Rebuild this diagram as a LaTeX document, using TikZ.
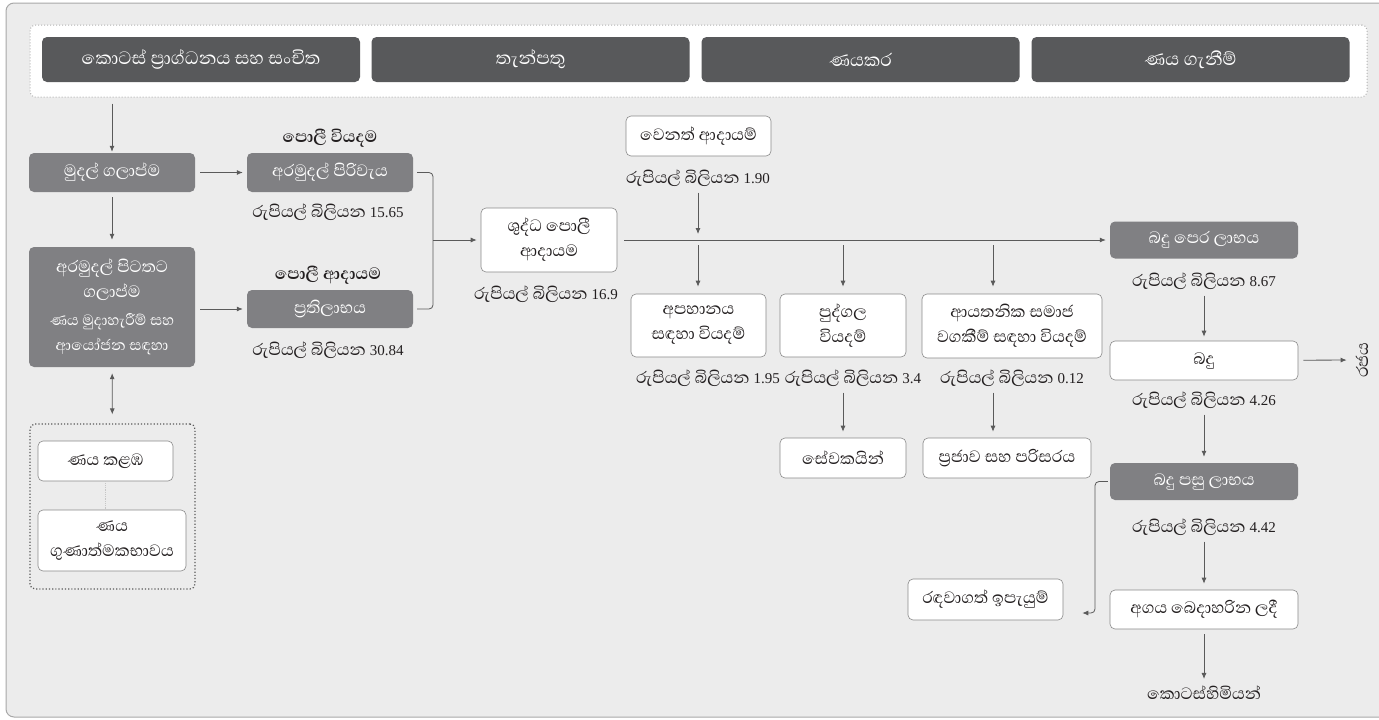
\documentclass[tikz,border=0pt]{standalone}
\usepackage{fontspec}
\setmainfont{Abhaya Libre}[Script=Sinhala]
\newfontfamily\numfont{Liberation Serif}
\usetikzlibrary{arrows.meta}

\definecolor{bgfill}{HTML}{ECECEC}
\definecolor{framegray}{HTML}{A8A8A8}
\definecolor{headfill}{HTML}{58595B}
\definecolor{stepfill}{HTML}{808083}
\definecolor{boxline}{HTML}{8A8A8A}
\definecolor{linegray}{HTML}{5A5A5A}
\definecolor{txt}{HTML}{231F20}

\newcommand{\smallsin}{\fontsize{19}{21}\selectfont}
\newcommand{\rbil}[1]{රුපියල් බිලියන {\numfont\fontsize{15}{15}\selectfont #1}}

\tikzset{
  basefont/.style={font=\fontsize{21}{25}\selectfont},
  headbox/.style={rectangle, rounded corners=5pt, fill=headfill, text=white,
    font=\fontsize{23}{26}\selectfont, minimum width=318pt, minimum height=45pt, inner sep=2pt},
  graybox/.style={basefont, rectangle, rounded corners=5pt, fill=stepfill, text=white,
    align=center, inner sep=2pt},
  whitebox/.style={basefont, rectangle, rounded corners=5pt, fill=white, draw=boxline,
    line width=0.6pt, text=txt, align=center, inner sep=2pt},
  dotbox/.style={rectangle, rounded corners=5pt, draw=linegray, dotted, line width=1.2pt},
  lbl/.style={basefont, text=txt, inner sep=1pt},
  boldlbl/.style={lbl, font=\fontsize{21}{24}\selectfont\bfseries},
  conn/.style={draw=linegray, line width=0.8pt},
  arr/.style={conn, -{Latex[length=6pt,width=5pt]}},
}

\begin{document}
\begin{tikzpicture}[x=1pt, y=-1pt]
  \useasboundingbox (0,0) rectangle (1379,720);
  % Frame
  \draw[framegray, fill=bgfill, line width=1pt, rounded corners=8pt] (6,3) rectangle (1395,717);

  % Top row of sources
  \node[dotbox, fill=white, draw=gray!60, line width=1pt, minimum width=1337pt, minimum height=72pt] (topgrp) at (698.5,61) {};
  \node[headbox] (kotas) at (201,59.5) {කොටස් ප්‍රාග්ධනය සහ සංචිත};
  \node[headbox] (thanpathu) at (530.5,59.5) {තැන්පතු};
  \node[headbox] (nayakara) at (860.5,59.5) {ණයකර};
  \node[headbox] (nayaganim) at (1190.5,59.5) {ණය ගැනීම්};

  % Left column
  \node[graybox, minimum width=166pt, minimum height=39pt] (mudal) at (112,172.5) {මුදල් ගලාප්ම};
  \node[graybox, minimum width=166pt, minimum height=120pt] (pitatata) at (112,307)
    {අරමුදල් පිටතට\\ගලාප්ම\\[3pt]{\smallsin ණය මුදාහැරීම් සහ}\\{\smallsin ආයෝජන සඳහා}};
  \node[dotbox, minimum width=165pt, minimum height=165pt] (grp) at (112.5,506.5) {};
  \node[whitebox, minimum width=135pt, minimum height=40pt] (kalaba) at (105.5,461) {ණය කළඹ};
  \node[whitebox, minimum width=148pt, minimum height=61pt] (guna) at (112,540.5) {ණය\\ගුණාත්මකභාවය};

  \draw[arr, shorten <=6pt, shorten >=1pt] (topgrp.south -| mudal) -- (mudal);
  \draw[arr, shorten <=5pt, shorten >=7pt] (mudal) -- (pitatata);
  \draw[conn, {Latex[length=6pt,width=5pt]}-{Latex[length=6pt,width=5pt]}, shorten <=6pt, shorten >=9pt] (pitatata) -- (grp);
  \draw[gray!45, line width=0.8pt, densely dotted] (kalaba) -- (kalaba |- guna.north);

  % Interest expense and income
  \node[boldlbl] (poliwiyadama) at (330,138) {පොලී වියදම};
  \node[graybox, minimum width=166pt, minimum height=39pt] (piriwaya) at (330,172.5) {අරමුදල් පිරිවැය};
  \node[lbl] (val1565) at (328,212) {\rbil{15.65}};
  \node[boldlbl] (poliadayama) at (328,275) {පොලී ආදායම};
  \node[graybox, minimum width=166pt, minimum height=38pt] (pratilabha) at (330,309) {ප්‍රතිලාභය};
  \node[lbl] (val3084) at (328,350) {\rbil{30.84}};

  \draw[arr, shorten <=5pt, shorten >=4pt] (mudal) -- (piriwaya);
  \draw[arr, shorten <=5pt, shorten >=4pt] (pitatata.east |- pratilabha) -- (pratilabha);

  % Net interest income
  \coordinate (brk) at (433,240);
  \node[whitebox, minimum width=136pt, minimum height=64pt] (shuddha) at (549,240) {ශුද්ධ පොලී\\ආදායම};
  \node[lbl] (val169) at (546,294) {\rbil{16.9}};
  \draw[conn, rounded corners=4pt] ([xshift=4pt]piriwaya.east) -| (brk) |- ([xshift=4pt]pratilabha.east);
  \draw[arr, shorten >=4pt] (brk) -- (shuddha);

  % Other income and expenses
  \node[whitebox, minimum width=145pt, minimum height=40pt] (wenath) at (698.5,136) {වෙනත් ආදායම්};
  \node[lbl] (val190) at (698,178) {\rbil{1.90}};
  \coordinate (j1) at (698,240);
  \coordinate (j2) at (843,240);
  \coordinate (j3) at (993,240);
  \node[whitebox, minimum width=135pt, minimum height=63pt] (apahana) at (698.5,325.5) {අපහානය\\සඳහා වියදම්};
  \node[whitebox, minimum width=126pt, minimum height=63pt] (pudgala) at (843,325.5) {පුද්ගල\\වියදම්};
  \node[whitebox, minimum width=180pt, minimum height=64pt] (ayathanika) at (1012,326) {ආයතනික සමාජ\\වගකීම් සඳහා වියදම්};
  \node[lbl] (val195) at (708,378) {\rbil{1.95}};
  \node[lbl] (val34) at (853,378) {\rbil{3.4}};
  \node[lbl] (val012) at (1012,378) {\rbil{0.12}};
  \node[whitebox, minimum width=126pt, minimum height=40pt] (sewaka) at (843,458) {සේවකයින්};
  \node[whitebox, minimum width=168pt, minimum height=40pt] (prajawa) at (1007,458) {ප්‍රජාව සහ පරිසරය};

  \draw[arr, shorten <=5pt, shorten >=6pt] (val190.south -| j1) -- (j1);
  \draw[arr, shorten <=5pt, shorten >=7pt] (j1) -- (apahana.north -| j1);
  \draw[arr, shorten <=5pt, shorten >=7pt] (j2) -- (pudgala.north -| j2);
  \draw[arr, shorten <=5pt, shorten >=7pt] (j3) -- (ayathanika.north -| j3);
  \draw[arr, shorten <=5pt, shorten >=6pt] (val34.south -| sewaka) -- (sewaka);
  \draw[arr, shorten <=5pt, shorten >=6pt] (val012.south -| j3) -- (prajawa.north -| j3);

  % Profit column
  \node[graybox, minimum width=188pt, minimum height=37pt] (bapera) at (1204,240) {බදු පෙර ලාභය};
  \node[lbl] (val867) at (1204,281) {\rbil{8.67}};
  \node[whitebox, minimum width=188pt, minimum height=39pt] (badu) at (1204,360.5) {බදු};
  \node[lbl, rotate=90] (raja) at (1362,360) {රජය};
  \node[lbl] (val426) at (1204,400) {\rbil{4.26}};
  \node[graybox, minimum width=188pt, minimum height=37pt] (bapasu) at (1204,481.5) {බදු පසු ලාභය};
  \node[lbl] (val442) at (1204,527) {\rbil{4.42}};
  \node[whitebox, minimum width=188pt, minimum height=39pt] (agaya) at (1204,609.5) {අගය බෙදාහරින ලදී};
  \node[lbl] (kotaskimi) at (1204,693) {කොටස්හිමියන්};
  \node[whitebox, minimum width=155pt, minimum height=41pt] (randawa) at (985.5,599.5) {රඳවාගත් ඉපැයුම්};
  \coordinate (rk) at (1095,613);

  \draw[arr, shorten <=7pt, shorten >=4pt] (shuddha) -- (bapera);
  \draw[arr, shorten <=5pt, shorten >=4pt] (val867) -- (badu);
  \draw[arr, shorten <=5pt, shorten >=8pt] (badu) -- (raja);
  \draw[arr, shorten <=5pt, shorten >=6pt] (val426) -- (bapasu);
  \draw[arr, shorten <=5pt, shorten >=6pt] (val442) -- (agaya);
  \draw[arr, shorten <=5pt, shorten >=6pt] (agaya) -- (kotaskimi);
  \draw[arr, rounded corners=4pt, shorten >=1pt] ([xshift=-2pt]bapasu.west) -| (rk) -- ([xshift=18pt]rk -| randawa.east);
\end{tikzpicture}
\end{document}
